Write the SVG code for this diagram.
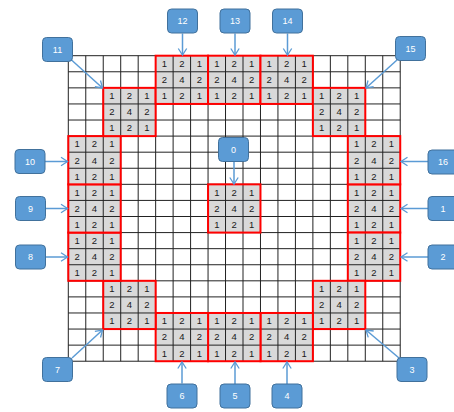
<svg xmlns="http://www.w3.org/2000/svg" xmlns:xlink="http://www.w3.org/1999/xlink" width="454" height="412" viewBox="0 0 454 412">
<style>
.gl{fill:none;stroke:#222;stroke-width:1}
.cf{fill:#d9d9d9}
.rb{fill:none;stroke:#ff0000;stroke-width:2}
.blk text{font-family:"Liberation Sans",Arial,sans-serif;font-size:9.5px;fill:#1a1a1a;text-anchor:middle}
.cb rect{fill:#5b9bd5;stroke:#41719c;stroke-width:1}
.cb text{font-family:"Liberation Sans",Arial,sans-serif;font-size:9px;fill:#fff;text-anchor:middle}
.ar{fill:none;stroke:#5b9bd5;stroke-width:1.5;marker-end:url(#ah)}
</style>
<defs>
<marker id="ah" markerUnits="userSpaceOnUse" markerWidth="12" markerHeight="12" refX="8" refY="5" orient="auto" viewBox="0 0 12 10">
<path d="M1.5,0.8 L8,5 L1.5,9.2" fill="none" stroke="#5b9bd5" stroke-width="1.3"/>
</marker>
</defs>
<rect width="454" height="412" fill="#fff"/>
<g id="grid">
<path class="gl" d="M68.3 55.7V361.22M85.77 55.7V361.22M103.24 55.7V361.22M120.71 55.7V361.22M138.18 55.7V361.22M155.65 55.7V361.22M173.12 55.7V361.22M190.59 55.7V361.22M208.06 55.7V361.22M225.53 55.7V361.22M243 55.7V361.22M260.47 55.7V361.22M277.94 55.7V361.22M295.41 55.7V361.22M312.88 55.7V361.22M330.35 55.7V361.22M347.82 55.7V361.22M365.29 55.7V361.22M382.76 55.7V361.22M400.23 55.7V361.22
M68.3 55.7H400.23M68.3 71.78H400.23M68.3 87.86H400.23M68.3 103.94H400.23M68.3 120.02H400.23M68.3 136.1H400.23M68.3 152.18H400.23M68.3 168.26H400.23M68.3 184.34H400.23M68.3 200.42H400.23M68.3 216.5H400.23M68.3 232.58H400.23M68.3 248.66H400.23M68.3 264.74H400.23M68.3 280.82H400.23M68.3 296.9H400.23M68.3 312.98H400.23M68.3 329.06H400.23M68.3 345.14H400.23M68.3 361.22H400.23"/>
</g>
<g id="blocks">
<g id="block0" class="blk" transform="translate(208.06,184.34)"><rect class="cf" width="52.41" height="48.24"/><path class="gl" d="M17.47 0V48.24M34.94 0V48.24M0 16.08H52.41M0 32.16H52.41"/><rect class="rb" width="52.41" height="48.24"/><text x="8.74" y="11.4">1</text><text x="26.21" y="11.4">2</text><text x="43.68" y="11.4">1</text><text x="8.74" y="27.5">2</text><text x="26.21" y="27.5">4</text><text x="43.68" y="27.5">2</text><text x="8.74" y="43.6">1</text><text x="26.21" y="43.6">2</text><text x="43.68" y="43.6">1</text></g>
<g id="block1" class="blk" transform="translate(347.82,184.34)"><rect class="cf" width="52.41" height="48.24"/><path class="gl" d="M17.47 0V48.24M34.94 0V48.24M0 16.08H52.41M0 32.16H52.41"/><rect class="rb" width="52.41" height="48.24"/><text x="8.74" y="11.4">1</text><text x="26.21" y="11.4">2</text><text x="43.68" y="11.4">1</text><text x="8.74" y="27.5">2</text><text x="26.21" y="27.5">4</text><text x="43.68" y="27.5">2</text><text x="8.74" y="43.6">1</text><text x="26.21" y="43.6">2</text><text x="43.68" y="43.6">1</text></g>
<g id="block2" class="blk" transform="translate(347.82,232.58)"><rect class="cf" width="52.41" height="48.24"/><path class="gl" d="M17.47 0V48.24M34.94 0V48.24M0 16.08H52.41M0 32.16H52.41"/><rect class="rb" width="52.41" height="48.24"/><text x="8.74" y="11.4">1</text><text x="26.21" y="11.4">2</text><text x="43.68" y="11.4">1</text><text x="8.74" y="27.5">2</text><text x="26.21" y="27.5">4</text><text x="43.68" y="27.5">2</text><text x="8.74" y="43.6">1</text><text x="26.21" y="43.6">2</text><text x="43.68" y="43.6">1</text></g>
<g id="block3" class="blk" transform="translate(312.88,280.82)"><rect class="cf" width="52.41" height="48.24"/><path class="gl" d="M17.47 0V48.24M34.94 0V48.24M0 16.08H52.41M0 32.16H52.41"/><rect class="rb" width="52.41" height="48.24"/><text x="8.74" y="11.4">1</text><text x="26.21" y="11.4">2</text><text x="43.68" y="11.4">1</text><text x="8.74" y="27.5">2</text><text x="26.21" y="27.5">4</text><text x="43.68" y="27.5">2</text><text x="8.74" y="43.6">1</text><text x="26.21" y="43.6">2</text><text x="43.68" y="43.6">1</text></g>
<g id="block4" class="blk" transform="translate(260.47,312.98)"><rect class="cf" width="52.41" height="48.24"/><path class="gl" d="M17.47 0V48.24M34.94 0V48.24M0 16.08H52.41M0 32.16H52.41"/><rect class="rb" width="52.41" height="48.24"/><text x="8.74" y="11.4">1</text><text x="26.21" y="11.4">2</text><text x="43.68" y="11.4">1</text><text x="8.74" y="27.5">2</text><text x="26.21" y="27.5">4</text><text x="43.68" y="27.5">2</text><text x="8.74" y="43.6">1</text><text x="26.21" y="43.6">2</text><text x="43.68" y="43.6">1</text></g>
<g id="block5" class="blk" transform="translate(208.06,312.98)"><rect class="cf" width="52.41" height="48.24"/><path class="gl" d="M17.47 0V48.24M34.94 0V48.24M0 16.08H52.41M0 32.16H52.41"/><rect class="rb" width="52.41" height="48.24"/><text x="8.74" y="11.4">1</text><text x="26.21" y="11.4">2</text><text x="43.68" y="11.4">1</text><text x="8.74" y="27.5">2</text><text x="26.21" y="27.5">4</text><text x="43.68" y="27.5">2</text><text x="8.74" y="43.6">1</text><text x="26.21" y="43.6">2</text><text x="43.68" y="43.6">1</text></g>
<g id="block6" class="blk" transform="translate(155.65,312.98)"><rect class="cf" width="52.41" height="48.24"/><path class="gl" d="M17.47 0V48.24M34.94 0V48.24M0 16.08H52.41M0 32.16H52.41"/><rect class="rb" width="52.41" height="48.24"/><text x="8.74" y="11.4">1</text><text x="26.21" y="11.4">2</text><text x="43.68" y="11.4">1</text><text x="8.74" y="27.5">2</text><text x="26.21" y="27.5">4</text><text x="43.68" y="27.5">2</text><text x="8.74" y="43.6">1</text><text x="26.21" y="43.6">2</text><text x="43.68" y="43.6">1</text></g>
<g id="block7" class="blk" transform="translate(103.24,280.82)"><rect class="cf" width="52.41" height="48.24"/><path class="gl" d="M17.47 0V48.24M34.94 0V48.24M0 16.08H52.41M0 32.16H52.41"/><rect class="rb" width="52.41" height="48.24"/><text x="8.74" y="11.4">1</text><text x="26.21" y="11.4">2</text><text x="43.68" y="11.4">1</text><text x="8.74" y="27.5">2</text><text x="26.21" y="27.5">4</text><text x="43.68" y="27.5">2</text><text x="8.74" y="43.6">1</text><text x="26.21" y="43.6">2</text><text x="43.68" y="43.6">1</text></g>
<g id="block8" class="blk" transform="translate(68.3,232.58)"><rect class="cf" width="52.41" height="48.24"/><path class="gl" d="M17.47 0V48.24M34.94 0V48.24M0 16.08H52.41M0 32.16H52.41"/><rect class="rb" width="52.41" height="48.24"/><text x="8.74" y="11.4">1</text><text x="26.21" y="11.4">2</text><text x="43.68" y="11.4">1</text><text x="8.74" y="27.5">2</text><text x="26.21" y="27.5">4</text><text x="43.68" y="27.5">2</text><text x="8.74" y="43.6">1</text><text x="26.21" y="43.6">2</text><text x="43.68" y="43.6">1</text></g>
<g id="block9" class="blk" transform="translate(68.3,184.34)"><rect class="cf" width="52.41" height="48.24"/><path class="gl" d="M17.47 0V48.24M34.94 0V48.24M0 16.08H52.41M0 32.16H52.41"/><rect class="rb" width="52.41" height="48.24"/><text x="8.74" y="11.4">1</text><text x="26.21" y="11.4">2</text><text x="43.68" y="11.4">1</text><text x="8.74" y="27.5">2</text><text x="26.21" y="27.5">4</text><text x="43.68" y="27.5">2</text><text x="8.74" y="43.6">1</text><text x="26.21" y="43.6">2</text><text x="43.68" y="43.6">1</text></g>
<g id="block10" class="blk" transform="translate(68.3,136.1)"><rect class="cf" width="52.41" height="48.24"/><path class="gl" d="M17.47 0V48.24M34.94 0V48.24M0 16.08H52.41M0 32.16H52.41"/><rect class="rb" width="52.41" height="48.24"/><text x="8.74" y="11.4">1</text><text x="26.21" y="11.4">2</text><text x="43.68" y="11.4">1</text><text x="8.74" y="27.5">2</text><text x="26.21" y="27.5">4</text><text x="43.68" y="27.5">2</text><text x="8.74" y="43.6">1</text><text x="26.21" y="43.6">2</text><text x="43.68" y="43.6">1</text></g>
<g id="block11" class="blk" transform="translate(103.24,87.86)"><rect class="cf" width="52.41" height="48.24"/><path class="gl" d="M17.47 0V48.24M34.94 0V48.24M0 16.08H52.41M0 32.16H52.41"/><rect class="rb" width="52.41" height="48.24"/><text x="8.74" y="11.4">1</text><text x="26.21" y="11.4">2</text><text x="43.68" y="11.4">1</text><text x="8.74" y="27.5">2</text><text x="26.21" y="27.5">4</text><text x="43.68" y="27.5">2</text><text x="8.74" y="43.6">1</text><text x="26.21" y="43.6">2</text><text x="43.68" y="43.6">1</text></g>
<g id="block12" class="blk" transform="translate(155.65,55.7)"><rect class="cf" width="52.41" height="48.24"/><path class="gl" d="M17.47 0V48.24M34.94 0V48.24M0 16.08H52.41M0 32.16H52.41"/><rect class="rb" width="52.41" height="48.24"/><text x="8.74" y="11.4">1</text><text x="26.21" y="11.4">2</text><text x="43.68" y="11.4">1</text><text x="8.74" y="27.5">2</text><text x="26.21" y="27.5">4</text><text x="43.68" y="27.5">2</text><text x="8.74" y="43.6">1</text><text x="26.21" y="43.6">2</text><text x="43.68" y="43.6">1</text></g>
<g id="block13" class="blk" transform="translate(208.06,55.7)"><rect class="cf" width="52.41" height="48.24"/><path class="gl" d="M17.47 0V48.24M34.94 0V48.24M0 16.08H52.41M0 32.16H52.41"/><rect class="rb" width="52.41" height="48.24"/><text x="8.74" y="11.4">1</text><text x="26.21" y="11.4">2</text><text x="43.68" y="11.4">1</text><text x="8.74" y="27.5">2</text><text x="26.21" y="27.5">4</text><text x="43.68" y="27.5">2</text><text x="8.74" y="43.6">1</text><text x="26.21" y="43.6">2</text><text x="43.68" y="43.6">1</text></g>
<g id="block14" class="blk" transform="translate(260.47,55.7)"><rect class="cf" width="52.41" height="48.24"/><path class="gl" d="M17.47 0V48.24M34.94 0V48.24M0 16.08H52.41M0 32.16H52.41"/><rect class="rb" width="52.41" height="48.24"/><text x="8.74" y="11.4">1</text><text x="26.21" y="11.4">2</text><text x="43.68" y="11.4">1</text><text x="8.74" y="27.5">2</text><text x="26.21" y="27.5">4</text><text x="43.68" y="27.5">2</text><text x="8.74" y="43.6">1</text><text x="26.21" y="43.6">2</text><text x="43.68" y="43.6">1</text></g>
<g id="block15" class="blk" transform="translate(312.88,87.86)"><rect class="cf" width="52.41" height="48.24"/><path class="gl" d="M17.47 0V48.24M34.94 0V48.24M0 16.08H52.41M0 32.16H52.41"/><rect class="rb" width="52.41" height="48.24"/><text x="8.74" y="11.4">1</text><text x="26.21" y="11.4">2</text><text x="43.68" y="11.4">1</text><text x="8.74" y="27.5">2</text><text x="26.21" y="27.5">4</text><text x="43.68" y="27.5">2</text><text x="8.74" y="43.6">1</text><text x="26.21" y="43.6">2</text><text x="43.68" y="43.6">1</text></g>
<g id="block16" class="blk" transform="translate(347.82,136.1)"><rect class="cf" width="52.41" height="48.24"/><path class="gl" d="M17.47 0V48.24M34.94 0V48.24M0 16.08H52.41M0 32.16H52.41"/><rect class="rb" width="52.41" height="48.24"/><text x="8.74" y="11.4">1</text><text x="26.21" y="11.4">2</text><text x="43.68" y="11.4">1</text><text x="8.74" y="27.5">2</text><text x="26.21" y="27.5">4</text><text x="43.68" y="27.5">2</text><text x="8.74" y="43.6">1</text><text x="26.21" y="43.6">2</text><text x="43.68" y="43.6">1</text></g>
</g>
<g id="connectors">
<line class="ar" x1="234" y1="161.5" x2="234" y2="184"/>
<line class="ar" x1="428" y1="208.5" x2="401" y2="208.5"/>
<line class="ar" x1="428" y1="257" x2="401" y2="257"/>
<line class="ar" x1="399" y1="358" x2="366" y2="330"/>
<line class="ar" x1="287" y1="384" x2="287" y2="362"/>
<line class="ar" x1="235" y1="384" x2="235" y2="362"/>
<line class="ar" x1="182" y1="383.5" x2="182" y2="362"/>
<line class="ar" x1="72" y1="358" x2="102.5" y2="330"/>
<line class="ar" x1="45.5" y1="257" x2="67.5" y2="257"/>
<line class="ar" x1="45.5" y1="208.5" x2="67.5" y2="208.5"/>
<line class="ar" x1="45" y1="161.5" x2="67.5" y2="161.5"/>
<line class="ar" x1="71.5" y1="60" x2="102.5" y2="88"/>
<line class="ar" x1="182.5" y1="33.5" x2="182.5" y2="55"/>
<line class="ar" x1="235" y1="33.5" x2="235" y2="55"/>
<line class="ar" x1="287.5" y1="33.5" x2="287.5" y2="55"/>
<line class="ar" x1="397" y1="60" x2="366" y2="88"/>
<line class="ar" x1="428" y1="161.5" x2="401" y2="161.5"/>
</g>
<g id="callouts">
<g id="c0" class="cb"><rect x="218.5" y="137.5" width="30" height="24" rx="4"/><text x="233.5" y="152.7">0</text></g>
<g id="c1" class="cb"><rect x="428" y="196.5" width="30" height="24" rx="4"/><text x="443" y="211.7">1</text></g>
<g id="c2" class="cb"><rect x="428" y="245" width="30" height="24" rx="4"/><text x="443" y="260.2">2</text></g>
<g id="c3" class="cb"><rect x="397" y="357.5" width="30" height="24" rx="4"/><text x="412" y="372.7">3</text></g>
<g id="c4" class="cb"><rect x="272" y="384" width="30" height="24" rx="4"/><text x="287" y="399.2">4</text></g>
<g id="c5" class="cb"><rect x="220" y="384" width="30" height="24" rx="4"/><text x="235" y="399.2">5</text></g>
<g id="c6" class="cb"><rect x="167" y="384" width="30" height="24" rx="4"/><text x="182" y="399.2">6</text></g>
<g id="c7" class="cb"><rect x="42.5" y="357.5" width="30" height="24" rx="4"/><text x="57.5" y="372.7">7</text></g>
<g id="c8" class="cb"><rect x="15.5" y="245" width="30" height="24" rx="4"/><text x="30.5" y="260.2">8</text></g>
<g id="c9" class="cb"><rect x="15.5" y="196.5" width="30" height="24" rx="4"/><text x="30.5" y="211.7">9</text></g>
<g id="c10" class="cb"><rect x="15" y="149.5" width="30" height="24" rx="4"/><text x="30" y="164.7">10</text></g>
<g id="c11" class="cb"><rect x="42.5" y="37.5" width="30" height="24" rx="4"/><text x="57.5" y="52.7">11</text></g>
<g id="c12" class="cb"><rect x="167.5" y="9" width="30" height="24" rx="4"/><text x="182.5" y="24.2">12</text></g>
<g id="c13" class="cb"><rect x="220" y="9" width="30" height="24" rx="4"/><text x="235" y="24.2">13</text></g>
<g id="c14" class="cb"><rect x="272.5" y="9" width="30" height="24" rx="4"/><text x="287.5" y="24.2">14</text></g>
<g id="c15" class="cb"><rect x="395.5" y="36.5" width="30" height="24" rx="4"/><text x="410.5" y="51.7">15</text></g>
<g id="c16" class="cb"><rect x="428" y="150" width="30" height="24" rx="4"/><text x="443" y="165.2">16</text></g>
</g>
</svg>
